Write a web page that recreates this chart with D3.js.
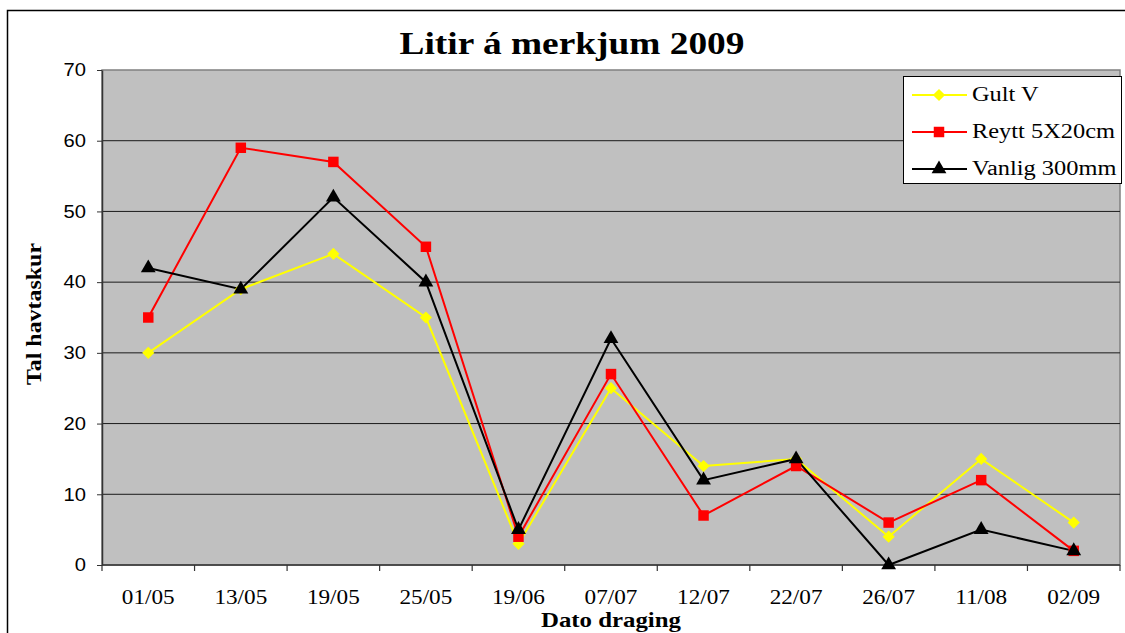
<!DOCTYPE html>
<html>
<head>
<meta charset="utf-8">
<script src="https://cdn.jsdelivr.net/npm/d3@7"></script>
<style>
  body { margin: 0; background: #fff; }
  svg { display: block; }
</style>
</head>
<body>
<div id="chart"></div>
<script>
// data
var dates = ["01/05", "13/05", "19/05", "25/05", "19/06", "07/07", "12/07", "22/07", "26/07", "11/08", "02/09"];
var gultV = [30, 39, 44, 35, 3, 25, 14, 15, 4, 15, 6];
var reytt = [35, 59, 57, 45, 4, 27, 7, 14, 6, 12, 2];
var vanlig = [42, 39, 52, 40, 5, 32, 12, 15, 0, 5, 2];
var yTicks = [0, 10, 20, 30, 40, 50, 60, 70];

(function () {
  // diamond = square turned 45 degrees, like the office chart marker
  var series = [
    { name: "Gult V", values: gultV, color: "#ffff00", symbol: d3.symbolSquare, size: 75, rot: 45 },
    { name: "Reytt 5X20cm", values: reytt, color: "#ff0000", symbol: d3.symbolSquare, size: 110, rot: 0 },
    { name: "Vanlig 300mm", values: vanlig, color: "#000000", symbol: d3.symbolTriangle, size: 95, rot: 0 }
  ];

  var W = 1125, H = 633;
  var pLeft = 102, pRight = 1120, pTop = 70, pBottom = 565;
  var serif = "'Liberation Serif', 'Times New Roman', serif";

  var svg = d3.select("#chart").append("svg")
    .attr("width", W).attr("height", H);

  // the picture's text is a bit wider than the font, so stretch it
  function stretch(sel, k) {
    sel.each(function () {
      var n = this.getComputedTextLength();
      d3.select(this).attr("textLength", n * k).attr("lengthAdjust", "spacingAndGlyphs");
    });
  }

  // outer chart border
  svg.append("rect")
    .attr("x", 7.5).attr("y", 10.5)
    .attr("width", 1130).attr("height", 640)
    .attr("fill", "#fff").attr("stroke", "#000").attr("stroke-width", 1.5);

  var x = d3.scaleBand().domain(dates).range([pLeft, pRight]);
  var y = d3.scaleLinear().domain([0, 70]).range([pBottom, pTop]);

  // plot background
  svg.append("rect")
    .attr("x", pLeft).attr("y", pTop)
    .attr("width", pRight - pLeft).attr("height", pBottom - pTop)
    .attr("fill", "#c0c0c0").attr("stroke", "#808080").attr("stroke-width", 1.5);

  // gridlines
  svg.append("g").selectAll("line")
    .data(yTicks.filter(function (d) { return d > 0 && d < 70; }))
    .enter().append("line")
      .attr("x1", pLeft).attr("x2", pRight)
      .attr("y1", function (d) { return y(d); })
      .attr("y2", function (d) { return y(d); })
      .attr("stroke", "#1a1a1a").attr("stroke-width", 1);

  // y axis
  var yAxis = svg.append("g")
    .attr("transform", "translate(" + pLeft + ",0)")
    .call(d3.axisLeft(y).tickValues(yTicks).tickSize(5).tickSizeOuter(0).tickPadding(11));
  yAxis.select(".domain").attr("stroke", "#333").attr("stroke-width", 1.5);
  yAxis.selectAll(".tick line").attr("stroke", "#333");
  yAxis.selectAll("text")
    .style("font-family", "'Liberation Sans', Arial, sans-serif")
    .style("font-size", "18px").attr("fill", "#000");
  stretch(yAxis.selectAll("text"), 1.12);

  // x axis, ticks between the categories
  svg.append("line")
    .attr("x1", pLeft).attr("x2", pRight)
    .attr("y1", pBottom).attr("y2", pBottom)
    .attr("stroke", "#333").attr("stroke-width", 1.5);
  var bounds = dates.map(function (d) { return x(d); }).concat([pRight]);
  svg.append("g").selectAll("line")
    .data(bounds)
    .enter().append("line")
      .attr("x1", function (d) { return d; }).attr("x2", function (d) { return d; })
      .attr("y1", pBottom).attr("y2", pBottom + 6)
      .attr("stroke", "#333").attr("stroke-width", 1.2);
  var xLabels = svg.append("g").selectAll("text")
    .data(dates)
    .enter().append("text")
      .attr("x", function (d) { return x(d) + x.bandwidth() / 2; })
      .attr("y", 604)
      .attr("text-anchor", "middle")
      .style("font-family", serif)
      .style("font-size", "20px")
      .text(function (d) { return d; });
  stretch(xLabels, 1.16);

  // titles
  svg.append("text")
    .attr("x", 572).attr("y", 54)
    .attr("text-anchor", "middle")
    .attr("textLength", 345).attr("lengthAdjust", "spacingAndGlyphs")
    .style("font-family", serif)
    .style("font-size", "32px").style("font-weight", "bold")
    .text("Litir á merkjum 2009");

  svg.append("text")
    .attr("x", 611).attr("y", 627)
    .attr("text-anchor", "middle")
    .attr("textLength", 140).attr("lengthAdjust", "spacingAndGlyphs")
    .style("font-family", serif)
    .style("font-size", "21px").style("font-weight", "bold")
    .text("Dato draging");

  svg.append("text")
    .attr("transform", "translate(41,314) rotate(-90)")
    .attr("text-anchor", "middle")
    .attr("textLength", 142).attr("lengthAdjust", "spacingAndGlyphs")
    .style("font-family", serif)
    .style("font-size", "21px").style("font-weight", "bold")
    .text("Tal havtaskur");

  // lines and markers
  var line = d3.line()
    .x(function (d, i) { return x(dates[i]) + x.bandwidth() / 2; })
    .y(function (d) { return y(d); });

  series.forEach(function (s) {
    svg.append("path")
      .datum(s.values)
      .attr("d", line)
      .attr("fill", "none")
      .attr("stroke", s.color)
      .attr("stroke-width", 2);
  });
  series.forEach(function (s) {
    svg.append("g").selectAll("path")
      .data(s.values)
      .enter().append("path")
        .attr("transform", function (d, i) {
          return "translate(" + (x(dates[i]) + x.bandwidth() / 2) + "," + y(d) + ") rotate(" + s.rot + ")";
        })
        .attr("d", d3.symbol().type(s.symbol).size(s.size))
        .attr("fill", s.color);
  });

  // legend
  var lg = svg.append("g").attr("transform", "translate(903,76)");
  lg.append("rect")
    .attr("x", 0.5).attr("y", 0.5)
    .attr("width", 218).attr("height", 107)
    .attr("fill", "#fff").attr("stroke", "#000").attr("stroke-width", 1);
  series.forEach(function (s, i) {
    var cy = 19 + i * 37;
    lg.append("line")
      .attr("x1", 9).attr("x2", 64)
      .attr("y1", cy).attr("y2", cy)
      .attr("stroke", s.color).attr("stroke-width", 2);
    lg.append("path")
      .attr("transform", "translate(36," + cy + ") rotate(" + s.rot + ")")
      .attr("d", d3.symbol().type(s.symbol).size(s.size))
      .attr("fill", s.color);
    var t = lg.append("text")
      .attr("x", 69).attr("y", cy + 6)
      .style("font-family", serif)
      .style("font-size", "20px")
      .text(s.name);
    stretch(t, 1.22);
  });
})();
</script>
</body>
</html>
